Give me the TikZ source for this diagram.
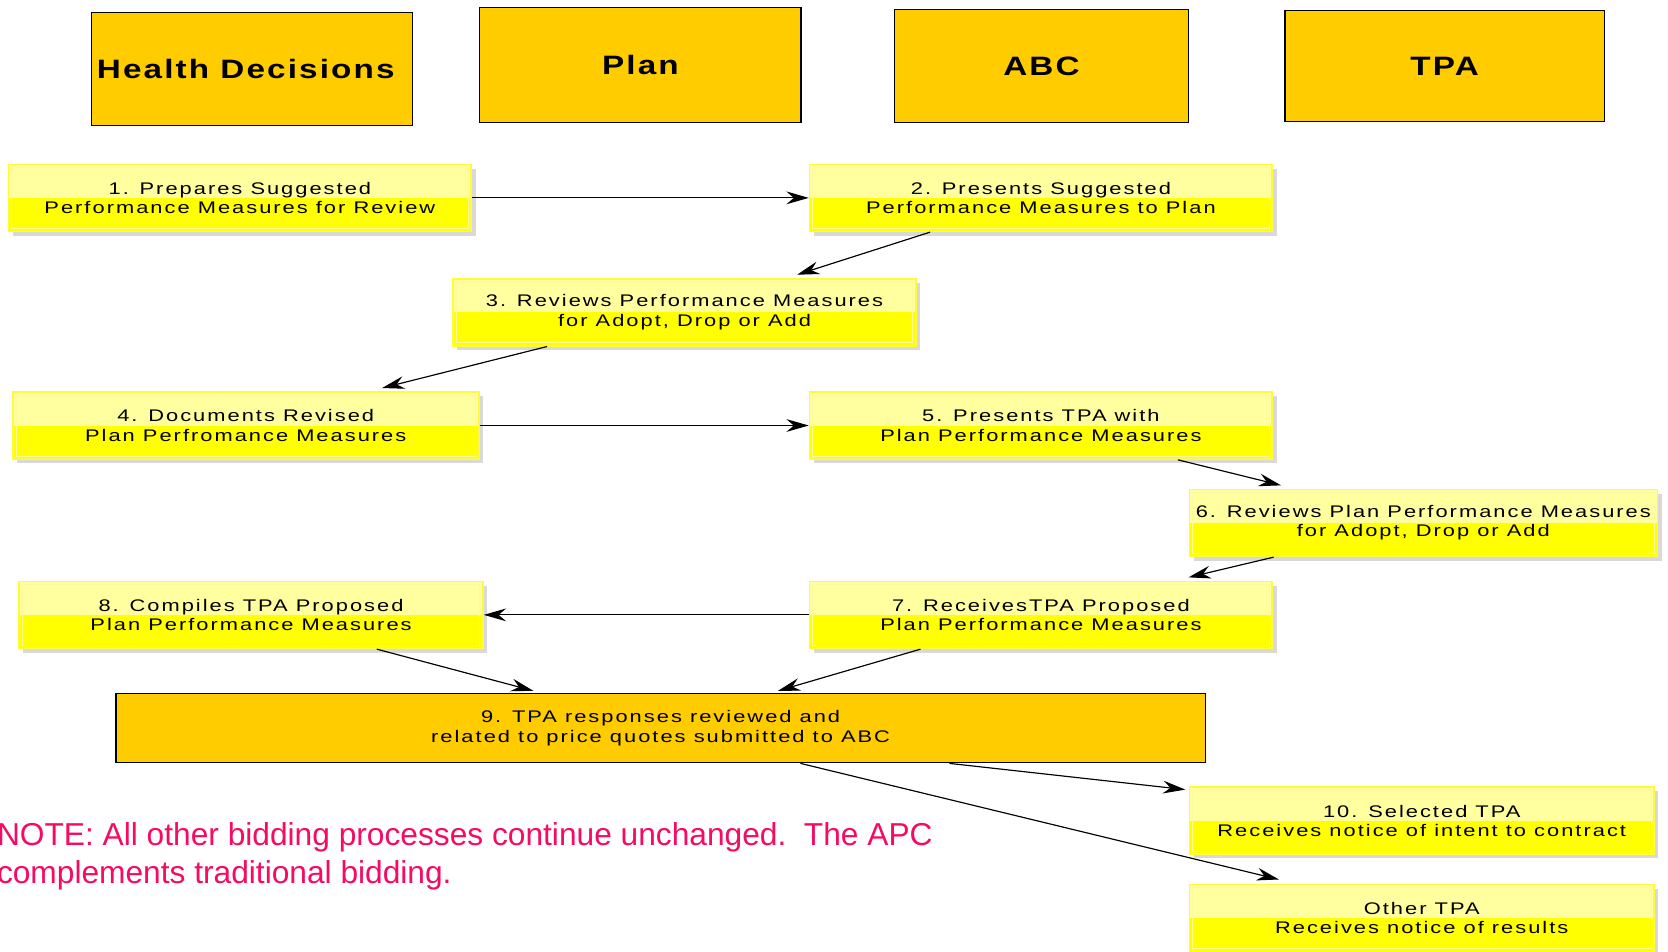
\documentclass[tikz,border=0pt]{standalone}
\usepackage{fontspec}
\setmainfont{Liberation Sans}
\newfontfamily\boxfont[LetterSpace=12,FakeStretch=1.3]{Liberation Sans}
\newfontfamily\headfont[LetterSpace=8,FakeStretch=1.25]{Liberation Sans}
\usetikzlibrary{arrows.meta,shadows,calc}
\definecolor{hdrfill}{RGB}{255,204,0}
\definecolor{ylo}{RGB}{255,255,0}
\definecolor{yhi}{RGB}{255,255,160}
\definecolor{yedge}{RGB}{255,250,60}
\definecolor{notecol}{RGB}{245,10,100}
\begin{document}
\begin{tikzpicture}[x=1pt,y=-1pt,
  hdr/.style={draw=black,line width=1.2pt,fill=hdrfill,inner sep=0pt,
    font=\headfont\fontsize{25}{30}\selectfont\bfseries},
  ybox/.style={draw=yedge,line width=1.5pt,fill=ylo,inner sep=0pt,
    minimum width=435pt,minimum height=63pt,align=center,
    font=\boxfont\fontsize{15.8}{18}\selectfont,
    drop shadow={opacity=0.3,shadow xshift=4pt,shadow yshift=-4pt},
    path picture={\fill[yhi] (path picture bounding box.north west) rectangle
      (path picture bounding box.east);
      \draw[white!60!yellow,line width=0.6pt] ([xshift=3pt,yshift=-3pt]path picture bounding box.north west) rectangle ([xshift=-3pt,yshift=3pt]path picture bounding box.south east);}},
  obox/.style={draw=black,line width=1.2pt,fill=hdrfill,inner sep=0pt,align=center,
    font=\boxfont\fontsize{15.8}{18}\selectfont},
  arr/.style={-{Stealth[length=21pt,width=12pt,inset=7pt]},line width=1.1pt,black}]
\useasboundingbox (0,0) rectangle (1568,894);
% headers
\node[hdr,minimum width=302pt,minimum height=106pt] (h1) at (237,65) {Health Decisions\hspace*{12pt}};
\node[hdr,minimum width=302pt,minimum height=108pt] (h2) at (602,61) {Plan};
\node[hdr,minimum width=276pt,minimum height=106pt] (h3) at (979,62) {ABC};
\node[hdr,minimum width=300pt,minimum height=104pt] (h4) at (1358,62) {TPA};
% process boxes
\node[ybox] (b1) at (225.5,186) {1. Prepares Suggested\\Performance Measures for Review};
\node[ybox] (b2) at (978.5,186) {2. Presents Suggested\\Performance Measures to Plan};
\node[ybox] (b3) at (643.5,293.5) {3. Reviews Performance Measures\\for Adopt, Drop or Add};
\node[ybox,minimum width=438pt] (b4) at (231,400) {4. Documents Revised\\Plan Perfromance Measures};
\node[ybox] (b5) at (978.5,400) {5. Presents TPA with\\Plan Performance Measures};
\node[ybox,minimum width=440pt] (b6) at (1338,491.5) {6. Reviews Plan Performance Measures\\for Adopt, Drop or Add};
\node[ybox] (b7) at (978.5,578) {7. ReceivesTPA Proposed\\Plan Performance Measures};
\node[ybox,minimum width=436pt] (b8) at (236,578) {8. Compiles TPA Proposed\\Plan Performance Measures};
\node[obox,minimum width=1024pt,minimum height=65pt] (b9) at (621,684.5) {9. TPA responses reviewed and\\related to price quotes submitted to ABC};
\node[ybox,minimum width=437pt] (b10) at (1336.5,771.5) {10. Selected TPA\\Receives notice of intent to contract};
\node[ybox,minimum width=437pt] (b11) at (1336.5,863) {Other TPA\\Receives notice of results};
% note
\node[anchor=north west,inner sep=0pt,align=left,text=notecol,
  font=\fontsize{29.8}{36}\selectfont] (note) at (-3,773)
  {NOTE: All other bidding processes continue unchanged.\ \ The APC\\complements traditional bidding.};
% connectors
\draw[arr] (b1.east) -- (b2.west);
\draw[arr] ($(b2.south west)+(114,0)$) -- ($(b3.north west)+(324,-3)$);
\draw[arr] ($(b3.south west)+(89,0)$) -- ($(b4.north west)+(348,-3)$);
\draw[arr] (b4.east) -- (b5.west);
\draw[arr] ($(b5.south west)+(347,0)$) -- ($(b6.north west)+(87,-3)$);
\draw[arr] ($(b6.south west)+(80,0)$) -- ($(b7.north west)+(357,-3)$);
\draw[arr] (b7.west) -- (b8.east);
\draw[arr] ($(b8.south west)+(337,0)$) -- ($(b9.north west)+(393,-2)$);
\draw[arr] ($(b7.south west)+(105,0)$) -- ($(b9.north west)+(623,-2)$);
\draw[arr] ($(b9.south west)+(784,0)$) -- ($(b10.north west)+(-3,3)$);
\draw[arr] ($(b9.south west)+(644,0)$) -- ($(b11.north west)+(85,-4)$);
\end{tikzpicture}
\end{document}
